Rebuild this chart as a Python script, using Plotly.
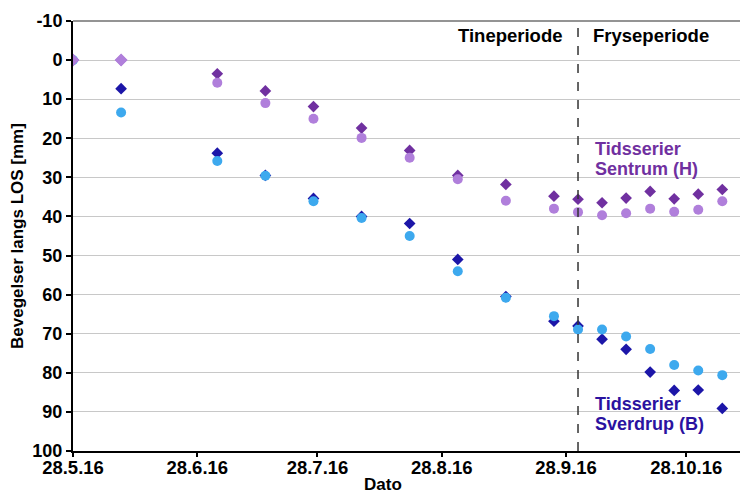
import plotly.graph_objects as go

dates = ["2016-05-28", "2016-06-09", "2016-07-03", "2016-07-15", "2016-07-27",
         "2016-08-08", "2016-08-20", "2016-09-01", "2016-09-13", "2016-09-25",
         "2016-10-01", "2016-10-07", "2016-10-13", "2016-10-19", "2016-10-25",
         "2016-10-31", "2016-11-06"]

sentrum_diamond = [0, 0, 3.5, 7.9, 11.9, 17.4, 23.1, 29.5, 31.8, 34.8,
                   35.6, 36.5, 35.3, 33.6, 35.5, 34.3, 33.1]
sentrum_circle = [0, 0, 5.8, 11.0, 15.0, 19.9, 25.0, 30.5, 36.0, 38.0,
                  38.9, 39.7, 39.2, 38.0, 38.8, 38.3, 36.1]
sverdrup_diamond = [0, 7.3, 23.8, 29.5, 35.4, 40.0, 41.8, 51.0, 60.5, 66.8,
                    68.0, 71.4, 74.0, 79.8, 84.5, 84.4, 89.1]
sverdrup_circle = [0, 13.4, 25.8, 29.6, 36.1, 40.4, 45.0, 54.0, 60.8, 65.5,
                   68.9, 68.9, 70.7, 73.9, 78.0, 79.4, 80.6]

tick_dates = ["2016-05-28", "2016-06-28", "2016-07-28", "2016-08-28", "2016-09-28", "2016-10-28"]
tick_labels = ["28.5.16", "28.6.16", "28.7.16", "28.8.16", "28.9.16", "28.10.16"]
y_ticks = [-10, 0, 10, 20, 30, 40, 50, 60, 70, 80, 90, 100]
y_tick_labels = ["-10", "0", "10", "20", "30", "40", "50", "60", "70", "80", "90", "100"]

period_split = "2016-10-01"

C_SD = "#1C16A8"
C_SC = "#3DA9EE"
C_HD = "#7030A0"
C_HC = "#B07FDB"
C_ST = "#2A12A0"

fig = go.Figure()
fig.add_trace(go.Scatter(x=dates, y=sverdrup_diamond, mode="markers",
                         marker=dict(symbol="diamond", size=9, color=C_SD), name="Sverdrup D"))
fig.add_trace(go.Scatter(x=dates, y=sentrum_diamond, mode="markers",
                         marker=dict(symbol="diamond", size=9, color=C_HD), name="Sentrum D"))
fig.add_trace(go.Scatter(x=dates, y=sverdrup_circle, mode="markers",
                         marker=dict(symbol="circle", size=10, color=C_SC), name="Sverdrup C"))
hc_symbols = ["diamond", "diamond"] + ["circle"] * (len(dates) - 2)
fig.add_trace(go.Scatter(x=dates, y=sentrum_circle, mode="markers",
                         marker=dict(symbol=hc_symbols, size=10, color=C_HC), name="Sentrum C"))

font = "Liberation Sans, Arial, sans-serif"

fig.update_layout(
    width=740, height=495,
    margin=dict(l=73, r=0, t=21, b=44),
    paper_bgcolor="white", plot_bgcolor="white",
    showlegend=False,
    font=dict(family=font, color="black"),
    xaxis=dict(
        range=["2016-05-28", "2016-11-10 10:00"],
        tickvals=tick_dates, ticktext=tick_labels,
        tickfont=dict(size=18.5, family=font, color="black", weight="bold"),
        showgrid=False, zeroline=False,
        showline=True, linecolor="black", linewidth=2,
        ticks="outside", ticklen=4, tickwidth=2, tickcolor="black",
        ticklabelstandoff=-5,
    ),
    yaxis=dict(
        range=[100, -10], autorange=False,
        tickvals=y_ticks, ticktext=y_tick_labels,
        tickfont=dict(size=18, family=font, color="black", weight="bold"),
        showgrid=True, gridcolor="#C8C8C8", gridwidth=1,
        zeroline=False,
        showline=True, linecolor="black", linewidth=2,
        ticks="outside", ticklen=5, tickwidth=2, tickcolor="black",
        title=dict(text="Bevegelser langs LOS [mm]",
                   font=dict(size=17, family=font, color="black", weight="bold"),
                   standoff=4),
    ),
)

# top border
fig.add_shape(type="line", xref="paper", yref="paper", x0=0, x1=1, y0=1, y1=1,
              line=dict(color="#707070", width=1.5))
# dashed separator
fig.add_shape(type="line", xref="x", yref="paper", x0=period_split, x1=period_split,
              y0=0, y1=0.99, line=dict(color="#333333", width=1.5, dash="dash"))

fig.add_annotation(x=period_split, y=-6.3, xref="x", yref="y", text="<b>Tineperiode</b>",
                   showarrow=False, xanchor="right", xshift=-13,
                   font=dict(size=18.5, family=font, color="black"))
fig.add_annotation(x=period_split, y=-6.3, xref="x", yref="y", text="<b>Fryseperiode</b>",
                   showarrow=False, xanchor="left", xshift=13,
                   font=dict(size=18.5, family=font, color="black"))
fig.add_annotation(x=period_split, y=22.7, xref="x", yref="y", text="<b>Tidsserier</b>",
                   showarrow=False, xanchor="left", xshift=15,
                   font=dict(size=18, family=font, color=C_HD))
fig.add_annotation(x=period_split, y=27.8, xref="x", yref="y", text="<b>Sentrum (H)</b>",
                   showarrow=False, xanchor="left", xshift=15,
                   font=dict(size=18, family=font, color=C_HD))
fig.add_annotation(x=period_split, y=88.0, xref="x", yref="y", text="<b>Tidsserier</b>",
                   showarrow=False, xanchor="left", xshift=15,
                   font=dict(size=18, family=font, color=C_ST))
fig.add_annotation(x=period_split, y=93.1, xref="x", yref="y", text="<b>Sverdrup (B)</b>",
                   showarrow=False, xanchor="left", xshift=15,
                   font=dict(size=18, family=font, color=C_ST))
fig.add_annotation(x=0.465, y=-0.078, xref="paper", yref="paper", text="<b>Dato</b>",
                   showarrow=False, yanchor="middle",
                   font=dict(size=17, family=font, color="black"))

fig.write_html("out.html", config={"displayModeBar": False})
